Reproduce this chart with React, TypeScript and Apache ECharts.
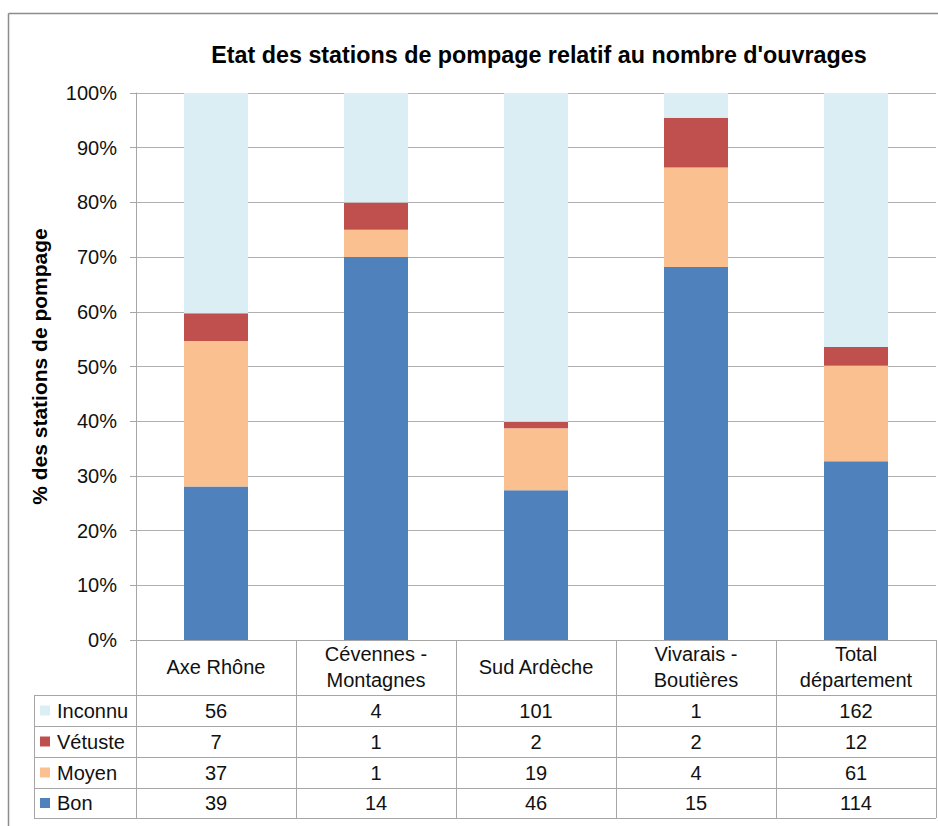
import React, { useEffect, useRef } from "react";
import * as echarts from "echarts";

const categories = ["Axe Rhône", "Cévennes -\nMontagnes", "Sud Ardèche", "Vivarais -\nBoutières", "Total\ndépartement"];
const inconnu = [56, 4, 101, 1, 162];
const vetuste = [7, 1, 2, 2, 12];
const moyen = [37, 1, 19, 4, 61];
const bon = [39, 14, 46, 15, 114];
const seriesNames = ["Inconnu", "Vétuste", "Moyen", "Bon"];
const seriesColors = ["#dbeef4", "#c0504d", "#fac090", "#4f81bd"];
const chartTitle = "Etat des stations de pompage relatif au nombre d'ouvrages";
const yAxisTitle = "% des stations de pompage";

const FONT = "'Liberation Sans', Arial, sans-serif";

export default function App() {
  const ref = useRef<HTMLDivElement>(null);
  useEffect(() => {
    if (!ref.current) return;
    const chart = echarts.init(ref.current, null, { renderer: "svg" });
    const totals = categories.map((_, i) => inconnu[i] + vetuste[i] + moyen[i] + bon[i]);
    const pct = (arr: number[]) => arr.map((v, i) => (100 * v) / totals[i]);
    const rows = [inconnu, vetuste, moyen, bon];

    const axisY = 640;
    const gridLeft = 136;
    const gridRight = 936;
    const tableLeft = 34;
    const rowLines = [695, 726, 757, 788, 818];
    const rowCenters = rowLines.slice(0, 4).map((y, i) => (y + rowLines[i + 1]) / 2);
    const lineColor = "#a6a6a6";

    const extraAxes = rows.map((arr, r) => ({
      type: "category",
      gridIndex: 0,
      position: "bottom",
      offset: rowCenters[r] - axisY,
      data: categories,
      axisLine: { show: false },
      axisTick: { show: false },
      splitLine: { show: false },
      axisLabel: {
        interval: 0,
        margin: 0,
        verticalAlign: "middle",
        fontFamily: FONT,
        fontSize: 20,
        color: "#111",
        formatter: (_v: string, idx: number) => String(arr[idx]),
      },
    }));

    const graphics: any[] = [];
    graphics.push({ type: "line", shape: { x1: 8.5, y1: 13.5, x2: 938, y2: 13.5 }, style: { stroke: "#8c8c8c", lineWidth: 1.5 } });
    graphics.push({ type: "line", shape: { x1: 8.5, y1: 13.5, x2: 8.5, y2: 826 }, style: { stroke: "#8c8c8c", lineWidth: 1.5 } });
    graphics.push({
      type: "text",
      x: 539,
      y: 55,
      style: { text: chartTitle, fontFamily: FONT, fontWeight: "bold", fontSize: 23.3, fill: "#000", textAlign: "center", textVerticalAlign: "middle" },
    });
    rowLines.forEach((y) => {
      graphics.push({ type: "line", shape: { x1: tableLeft, y1: y + 0.5, x2: gridRight, y2: y + 0.5 }, style: { stroke: lineColor, lineWidth: 1 } });
    });
    graphics.push({ type: "line", shape: { x1: tableLeft + 0.5, y1: rowLines[0], x2: tableLeft + 0.5, y2: rowLines[4] }, style: { stroke: lineColor, lineWidth: 1 } });
    seriesNames.forEach((name, r) => {
      graphics.push({ type: "rect", shape: { x: 40, y: rowCenters[r] - 5, width: 10, height: 10 }, style: { fill: seriesColors[r] } });
      graphics.push({
        type: "text",
        x: 57,
        y: rowCenters[r],
        style: { text: name, fontFamily: FONT, fontSize: 20, fill: "#111", textAlign: "left", textVerticalAlign: "middle" },
      });
    });

    const stackOrder = [3, 2, 1, 0];
    const series = stackOrder.map((r) => ({
      name: seriesNames[r],
      type: "bar",
      stack: "total",
      xAxisIndex: 0,
      yAxisIndex: 0,
      barWidth: 64,
      itemStyle: { color: seriesColors[r] },
      data: pct(rows[r]),
    }));

    chart.setOption({
      animation: false,
      grid: { left: gridLeft, right: 938 - gridRight, top: 93, bottom: 826 - axisY, containLabel: false },
      xAxis: [
        {
          type: "category",
          data: categories,
          position: "bottom",
          axisLine: { show: true, lineStyle: { color: lineColor, width: 1 } },
          axisTick: { show: true, length: 178, interval: 0, lineStyle: { color: lineColor, width: 1 } },
          splitLine: { show: false },
          axisLabel: {
            interval: 0,
            margin: 27,
            verticalAlign: "middle",
            fontFamily: FONT,
            fontSize: 20,
            lineHeight: 26,
            color: "#111",
          },
        },
        ...extraAxes,
      ],
      yAxis: {
        type: "value",
        min: 0,
        max: 100,
        interval: 10,
        name: yAxisTitle,
        nameLocation: "middle",
        nameGap: 86,
        nameTextStyle: { fontFamily: FONT, fontWeight: "bold", fontSize: 21, color: "#000" },
        axisLine: { show: true, lineStyle: { color: lineColor, width: 1 } },
        axisTick: { show: true, length: 6, lineStyle: { color: lineColor } },
        splitLine: { show: true, lineStyle: { color: "#b0b0b0", width: 1 } },
        axisLabel: {
          margin: 19,
          fontFamily: FONT,
          fontSize: 20,
          color: "#111",
          formatter: "{value}%",
        },
      },
      graphic: graphics,
      series,
    });
    return () => chart.dispose();
  }, []);
  return <div ref={ref} style={{ position: "absolute", left: 0, top: 0, width: 938, height: 826, background: "#fff" }} />;
}
